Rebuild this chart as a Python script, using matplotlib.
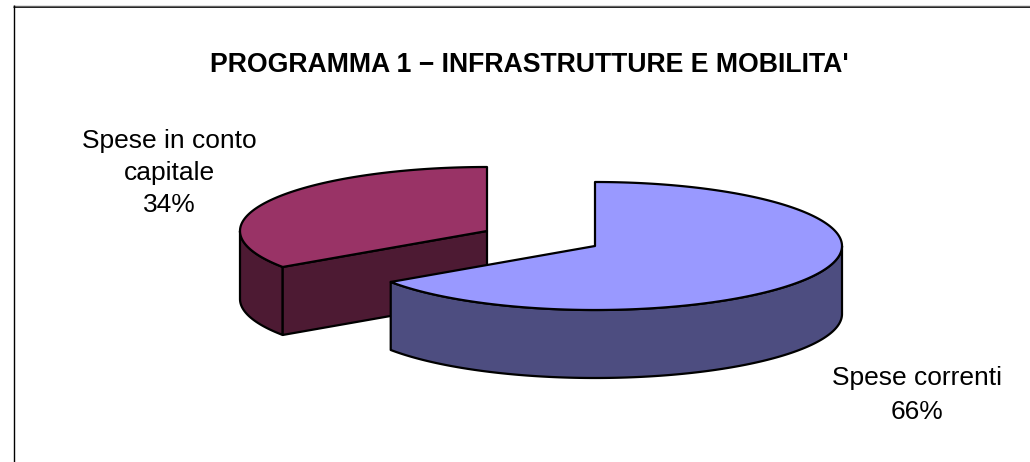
import numpy as np
import matplotlib
matplotlib.use("Agg")
import matplotlib.pyplot as plt
from matplotlib.patches import Polygon

categories = ["Spese correnti", "Spese in conto\ncapitale"]
values = [65.5, 34.5]
percent_labels = ["66%", "34%"]
title = "PROGRAMMA 1 \u2212 INFRASTRUTTURE E MOBILITA'"

TOP = ["#9999FF", "#993366"]
SIDE = ["#4D4D80", "#4D1A33"]
CENTERS = [(595, 246), (487, 231)]
A, B, DEPTH = 247, 64, 68

plt.rcParams["font.family"] = ["Liberation Sans", "DejaVu Sans"]
fig = plt.figure(figsize=(10.30, 4.62), dpi=100)
ax = fig.add_axes([0, 0, 1, 1])
ax.set_xlim(0, 1030)
ax.set_ylim(462, 0)
ax.axis("off")

# chart frame (open at the right and the bottom)
ax.plot([13, 1030], [5.5, 5.5], color="#666666", lw=1.0, solid_capstyle="butt")
ax.plot([13, 1030], [6.5, 6.5], color="#222222", lw=0.7, solid_capstyle="butt")
ax.plot([13.5, 13.5], [5, 462], color="black", lw=1.0, solid_capstyle="butt")


def pt(c, t, dy=0):
    return np.column_stack([c[0] + A * np.sin(t), c[1] - B * np.cos(t) + dy])


fractions = np.array(values) / sum(values)
edges = np.concatenate([[0], np.cumsum(fractions)]) * 2 * np.pi
lw = 1.6

for i in [1, 0]:
    c = CENTERS[i]
    t0, t1 = edges[i], edges[i + 1]
    t = np.linspace(t0, t1, 300)
    rim = pt(c, t)
    lo, hi = max(t0, np.pi / 2), min(t1, 3 * np.pi / 2)
    if hi > lo:
        tw = np.linspace(lo, hi, 300)
        wall = np.vstack([pt(c, tw), pt(c, tw[::-1], DEPTH)])
        ax.add_patch(Polygon(wall, closed=True, fc=SIDE[i], ec="black", lw=lw, joinstyle="round"))
    if i == 1:
        p = pt(c, np.array([t0]))[0]
        cut = np.array([p, c, (c[0], c[1] + DEPTH), (p[0], p[1] + DEPTH)])
        ax.add_patch(Polygon(cut, closed=True, fc=SIDE[i], ec="black", lw=lw, joinstyle="round"))
    top = np.vstack([[c], rim])
    ax.add_patch(Polygon(top, closed=True, fc=TOP[i], ec="black", lw=lw, joinstyle="round"))

ax.text(529, 72, title, ha="center", va="baseline", fontsize=19.2, fontweight="bold", color="black")
ax.text(169, 212, categories[1] + "\n" + percent_labels[1], ha="center", va="baseline",
        fontsize=19, color="black", linespacing=1.42, multialignment="center")
ax.text(917, 419, categories[0] + "\n" + percent_labels[0], ha="center", va="baseline",
        fontsize=19, color="black", linespacing=1.5, multialignment="center")

fig.savefig("out.png", dpi=100, facecolor="white")
